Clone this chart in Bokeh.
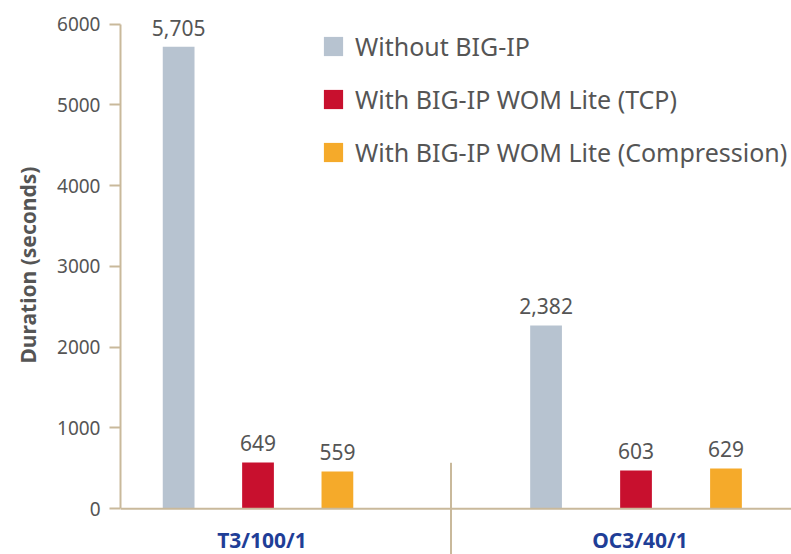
from bokeh.plotting import figure
from bokeh.models import (Range1d, LinearAxis, FixedTicker, Span, Legend, LegendItem,
                          ColumnDataSource, Title)
from bokeh.core.properties import value
from bokeh.embed import file_html
from bokeh.resources import INLINE

# ---- data ----
groups = ["T3/100/1", "OC3/40/1"]
series = ["Without BIG-IP", "With BIG-IP WOM Lite (TCP)", "With BIG-IP WOM Lite (Compression)"]
# bar heights as drawn in the picture (seconds)
without_bigip = [5720, 2269]
with_tcp = [573, 474]
with_compression = [462, 499]
# value labels printed above bars
labels_without = ["5,705", "2,382"]
labels_tcp = ["649", "603"]
labels_compression = ["559", "629"]
y_ticks = [0, 1000, 2000, 3000, 4000, 5000, 6000]
y_title = "Duration  (seconds)"

# ---- style ----
colors = ["#b7c3d0", "#c8102e", "#f5aa2a"]
axis_color = "#c9b99b"
text_color = "#555555"
cat_color = "#1f3e97"
FONT = "Noto Sans"

W, H = 791, 554
LEFT = 120
Y0, Y1 = -566, 6291
PX_X = 378.0
X0 = -0.3638
p = figure(width=W, height=H, output_backend="svg", toolbar_location=None,
           x_range=Range1d(X0, X0 + (W - LEFT) / PX_X),
           y_range=Range1d(Y0, Y1),
           x_axis_type=None, y_axis_type=None,
           min_border_left=LEFT, min_border_right=0, min_border_top=0, min_border_bottom=0)
p.outline_line_color = None
p.grid.visible = False
p.background_fill_color = "white"
p.border_fill_color = "white"

yaxis = LinearAxis(ticker=FixedTicker(ticks=y_ticks), bounds=(0, 6000))
yaxis.axis_line_color = axis_color
yaxis.axis_line_width = 2
yaxis.major_tick_line_color = axis_color
yaxis.major_tick_line_width = 2
yaxis.major_tick_in = 0
yaxis.major_tick_out = 11
yaxis.minor_tick_line_color = None
yaxis.major_label_standoff = 9
yaxis.major_label_text_font = FONT
yaxis.major_label_text_font_size = "19px"
yaxis.major_label_text_color = text_color
p.add_layout(yaxis, "left")

# y-axis title as a side title, placed along the 0..6000 span
p.add_layout(Title(text=y_title, align="left", offset=191, vertical_align="top",
                   standoff=22, text_font=FONT, text_font_style="bold",
                   text_font_size="21px", text_color=text_color), "left")

p.add_layout(Span(location=0, dimension="width", line_color=axis_color, line_width=2))

group_spacing = [0.21, 0.238]
bar_w = 0.084
all_heights = [without_bigip, with_tcp, with_compression]
all_labels = [labels_without, labels_tcp, labels_compression]
legend_items = []
for si, (name, col, hs, lbs) in enumerate(zip(series, colors, all_heights, all_labels)):
    xs = [gi + (si - 1) * group_spacing[gi] for gi in range(len(groups))]
    src = ColumnDataSource(dict(x=xs, top=hs, lab=lbs))
    r = p.vbar(x="x", top="top", width=bar_w, bottom=0, source=src,
               fill_color=col, line_color=None)
    legend_items.append(LegendItem(label=name, renderers=[r]))
    p.text(x="x", y="top", text="lab", source=src, text_align="center",
           text_baseline="alphabetic", y_offset=-19,
           text_font=value(FONT), text_font_size="21px", text_color=text_color)

# category labels
cat_src = ColumnDataSource(dict(x=list(range(len(groups))), y=[0] * len(groups), t=groups))
p.text(x="x", y="y", text="t", source=cat_src, text_align="center", text_baseline="alphabetic",
       x_offset=4, y_offset=31, text_font=value(FONT), text_font_style="bold",
       text_font_size="21px", text_color=cat_color)

# group separator tick
px_per_unit = H / (Y1 - Y0)
sep_x = 0.5 + 4 / PX_X
p.segment(x0=[sep_x], y0=[46 / px_per_unit], x1=[sep_x], y1=[-60 / px_per_unit],
          line_color=axis_color, line_width=2)

legend = Legend(items=legend_items, location=(201, 385), orientation="vertical")
legend.glyph_width = 24
legend.glyph_height = 24
legend.label_height = 24
legend.spacing = 19
legend.padding = 0
legend.margin = 0
legend.label_standoff = 10
legend.border_line_color = None
legend.background_fill_alpha = 0
legend.label_text_font = FONT
legend.label_text_font_size = "25px"
legend.label_text_color = text_color
p.add_layout(legend)

open("out.html", "w").write(file_html(p, INLINE))
